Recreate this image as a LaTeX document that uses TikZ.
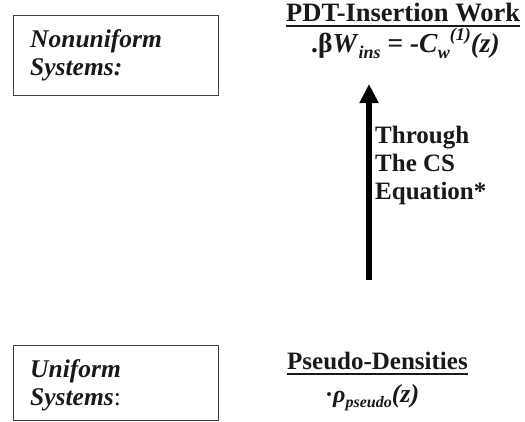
\documentclass[tikz,border=0pt]{standalone}
\usepackage{fontspec}
\setmainfont{Liberation Serif}
\usetikzlibrary{arrows.meta}
\tikzset{
  sysbox/.style={draw=black!75, line width=0.9pt},
  txt/.style={inner sep=0pt, text=black!90},
  boxtxt/.style={txt, anchor=north west, align=left, font=\fontsize{25.5}{28.5}\selectfont\bfseries\itshape},
  headtxt/.style={txt, anchor=base west, font=\fontsize{26.5}{28}\selectfont\bfseries},
  eqtxt/.style={txt, anchor=base west, font=\fontsize{27.5}{28}\selectfont\bfseries},
  uline/.style={line width=1.6pt, black!90},
  bigarrow/.style={line width=6pt, -{Triangle[width=18pt,length=19pt]}}
}
\newcommand{\mysub}[2][18]{\raisebox{-0.22em}{\fontsize{#1}{#1}\selectfont\bfseries\itshape #2}}
\newcommand{\mysup}[2][18]{\raisebox{0.42em}{\fontsize{#1}{#1}\selectfont\bfseries\itshape #2}}
\begin{document}
\begin{tikzpicture}[x=1pt,y=-1pt]
\useasboundingbox (0,0) rectangle (525,421);
% boxes
\draw[sysbox] (13,15) rectangle (218,95);
\draw[sysbox] (13,345) rectangle (218,420);
\node[boxtxt] (nonu) at (30,29) {Nonuniform\\Systems:};
\node[boxtxt] (uni) at (30,359) {Uniform\\Systems\textup{\mdseries:}};
% top right
\node[headtxt] (title) at (286,21) {PDT-Insertion Work};
\draw[uline] ([yshift=-5pt]title.base west) -- ([yshift=-5pt]title.base east);
\node[eqtxt] (eq) at (311,52) {.β\textit{W}\mysub{ins} = \textit{-C}\mysub{w}\mysup{(1)}\textit{(z)}};
% bottom right
\node[headtxt, font=\fontsize{25}{28}\selectfont\bfseries] (pseudo) at (287,369) {Pseudo-Densities};
\draw[uline] ([yshift=-5pt]pseudo.base west) -- ([yshift=-5pt]pseudo.base east);
\node[eqtxt, font=\fontsize{24}{26}\selectfont\bfseries] (rho) at (325,402) {·\textit{ρ}\mysub[16]{pseudo}{\fontsize{26}{26}\selectfont\textit{(z)}}};
% arrow
\coordinate (arrstart) at (369,280);
\coordinate (arrend) at (369,84);
\draw[bigarrow] (arrstart) -- (arrend);
\node[txt, anchor=north west, align=left, font=\fontsize{25}{28}\selectfont\bfseries] (cs) at (375,126) {Through\\The CS\\Equation*};
\end{tikzpicture}
\end{document}
